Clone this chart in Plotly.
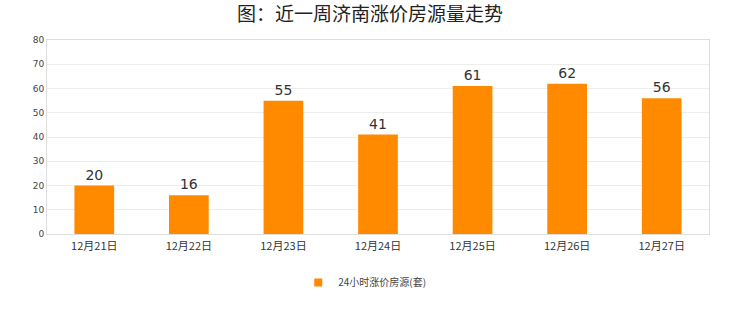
import plotly.graph_objects as go

categories = ["12月21日", "12月22日", "12月23日", "12月24日", "12月25日", "12月26日", "12月27日"]
values = [20, 16, 55, 41, 61, 62, 56]
series_name = "24小时涨价房源(套)"
title_text = "图：近一周济南涨价房源量走势"
bar_color = "#FF8A00"

fig = go.Figure()
fig.add_trace(go.Bar(
    x=categories, y=values, name=series_name, showlegend=False,
    marker=dict(color=bar_color, line=dict(width=0)),
    width=0.42,
    text=[str(v) for v in values], textposition="outside",
    textfont=dict(size=14, color="#333333", family="DejaVu Sans"),
    cliponaxis=False,
))
fig.add_trace(go.Scatter(
    x=[None], y=[None], mode="markers", name=series_name,
    marker=dict(symbol="square", size=8, color=bar_color),
))

fig.update_layout(
    width=740, height=312,
    margin=dict(l=47, r=31, t=40, b=78),
    paper_bgcolor="white", plot_bgcolor="white",
    title=dict(text=title_text, x=0.5, xanchor="center", y=0.955, yanchor="middle",
               font=dict(size=19, color="#222222", family="Noto Sans CJK SC")),
    xaxis=dict(showgrid=False, showline=True, linecolor="#dddddd", linewidth=1, mirror=True,
               ticks="outside", ticklen=2, tickcolor="rgba(0,0,0,0)",
               tickfont=dict(size=11, color="#333333", family="Noto Sans CJK SC")),
    yaxis=dict(range=[0, 80], dtick=10, showgrid=True, gridcolor="#ececec", zeroline=False,
               showline=True, linecolor="#dddddd", linewidth=1, mirror=True, ticks="",
               tickfont=dict(size=9, color="#444444", family="DejaVu Sans")),
    showlegend=True,
    legend=dict(orientation="h", x=0.48, xanchor="center", y=-0.25, yanchor="middle",
                font=dict(size=10, color="#444444", family="Noto Sans CJK SC"),
                itemwidth=30),
    bargap=0.58,
)

fig.write_html("out.html")
